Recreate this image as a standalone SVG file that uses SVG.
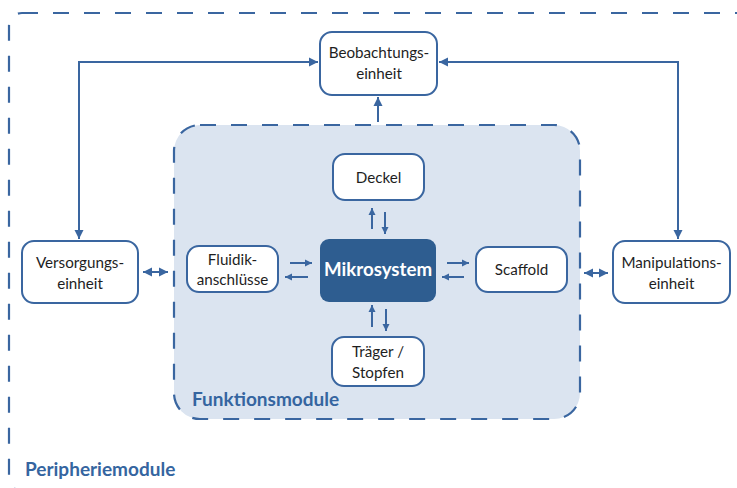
<svg xmlns="http://www.w3.org/2000/svg" width="737" height="488" viewBox="0 0 737 488">
<defs>
<style>
.box{fill:#ffffff;stroke:#3a66a0;stroke-width:2}
.grp{stroke:#3a66a0;stroke-width:2.2;stroke-dasharray:16 15;}
.t{font-family:Lato,"Open Sans","Liberation Sans",sans-serif;font-size:15.2px;fill:#1e1e1e;text-anchor:middle}
.lbl{font-family:Lato,"Open Sans","Liberation Sans",sans-serif;font-size:19px;font-weight:bold;fill:#3565a0}
.c{fill:none;stroke:#3a66a0;stroke-width:2}
.big{marker-end:url(#ah)}
.both{marker-start:url(#ah);marker-end:url(#ah)}
.sm{marker-end:url(#as)}
</style>
<marker id="ah" markerUnits="userSpaceOnUse" markerWidth="10" markerHeight="10" refX="9" refY="4.5" orient="auto-start-reverse" viewBox="0 0 10 9">
<path d="M0,0 L9,4.5 L0,9 z" fill="#3a66a0"/>
</marker>
<marker id="as" markerUnits="userSpaceOnUse" markerWidth="8" markerHeight="8" refX="7" refY="3.5" orient="auto" viewBox="0 0 8 7">
<path d="M0,0 L7,3.5 L0,7 z" fill="#3a66a0"/>
</marker>
</defs>
<rect width="737" height="488" fill="#ffffff"/>

<g id="peripheriemodule">
<rect x="9" y="13" width="760" height="478" rx="13" fill="none" class="grp"/>
<text class="lbl" x="25" y="476">Peripheriemodule</text>
</g>

<g id="funktionsmodule">
<rect x="174" y="125" width="406" height="294" rx="26" fill="#dbe4f0" class="grp"/>
<text class="lbl" x="192" y="406">Funktionsmodule</text>
</g>

<g id="connectors">
<path class="c both" d="M318,62 H79 V239"/>
<path class="c both" d="M439,62 H678 V239"/>
<path class="c big" d="M378,122 V97"/>
<path class="c both" d="M143,272 H168"/>
<path class="c both" d="M584,273 H608"/>
<path class="c sm" d="M290,263 H312"/>
<path class="c sm" d="M308,277 H285"/>
<path class="c sm" d="M447,263 H469"/>
<path class="c sm" d="M464,277 H442"/>
<path class="c sm" d="M372,229 V208"/>
<path class="c sm" d="M385,212 V234"/>
<path class="c sm" d="M372,327 V305"/>
<path class="c sm" d="M386,309 V331"/>
</g>

<g id="beobachtungseinheit">
<rect class="box" x="320" y="32" width="117" height="63" rx="12"/>
<text class="t" x="379" y="58">Beobachtungs-</text>
<text class="t" x="379" y="79">einheit</text>
</g>

<g id="versorgungseinheit">
<rect class="box" x="22" y="241" width="116" height="62" rx="12"/>
<text class="t" x="80" y="268">Versorgungs-</text>
<text class="t" x="80" y="289">einheit</text>
</g>

<g id="manipulationseinheit">
<rect class="box" x="613" y="241" width="117" height="62" rx="12"/>
<text class="t" x="671.5" y="268">Manipulations-</text>
<text class="t" x="671.5" y="289">einheit</text>
</g>

<g id="deckel">
<rect class="box" x="333" y="154" width="91" height="46" rx="12"/>
<text class="t" x="378.5" y="183">Deckel</text>
</g>

<g id="fluidikanschluesse">
<rect class="box" x="187" y="246" width="91" height="46" rx="12"/>
<text class="t" x="232.5" y="265">Fluidik-</text>
<text class="t" x="232.5" y="285">anschlüsse</text>
</g>

<g id="mikrosystem">
<rect x="320" y="239" width="116" height="63" rx="9" fill="#2e5d90"/>
<text x="378" y="276" font-family="Lato,'Open Sans','Liberation Sans',sans-serif" font-size="18.7" font-weight="bold" fill="#ffffff" text-anchor="middle">Mikrosystem</text>
</g>

<g id="scaffold">
<rect class="box" x="476" y="247" width="91" height="45" rx="12"/>
<text class="t" x="521.5" y="275">Scaffold</text>
</g>

<g id="traeger">
<rect class="box" x="332" y="337" width="92" height="49" rx="12"/>
<text class="t" x="378" y="357">Träger /</text>
<text class="t" x="378" y="378">Stopfen</text>
</g>
</svg>
